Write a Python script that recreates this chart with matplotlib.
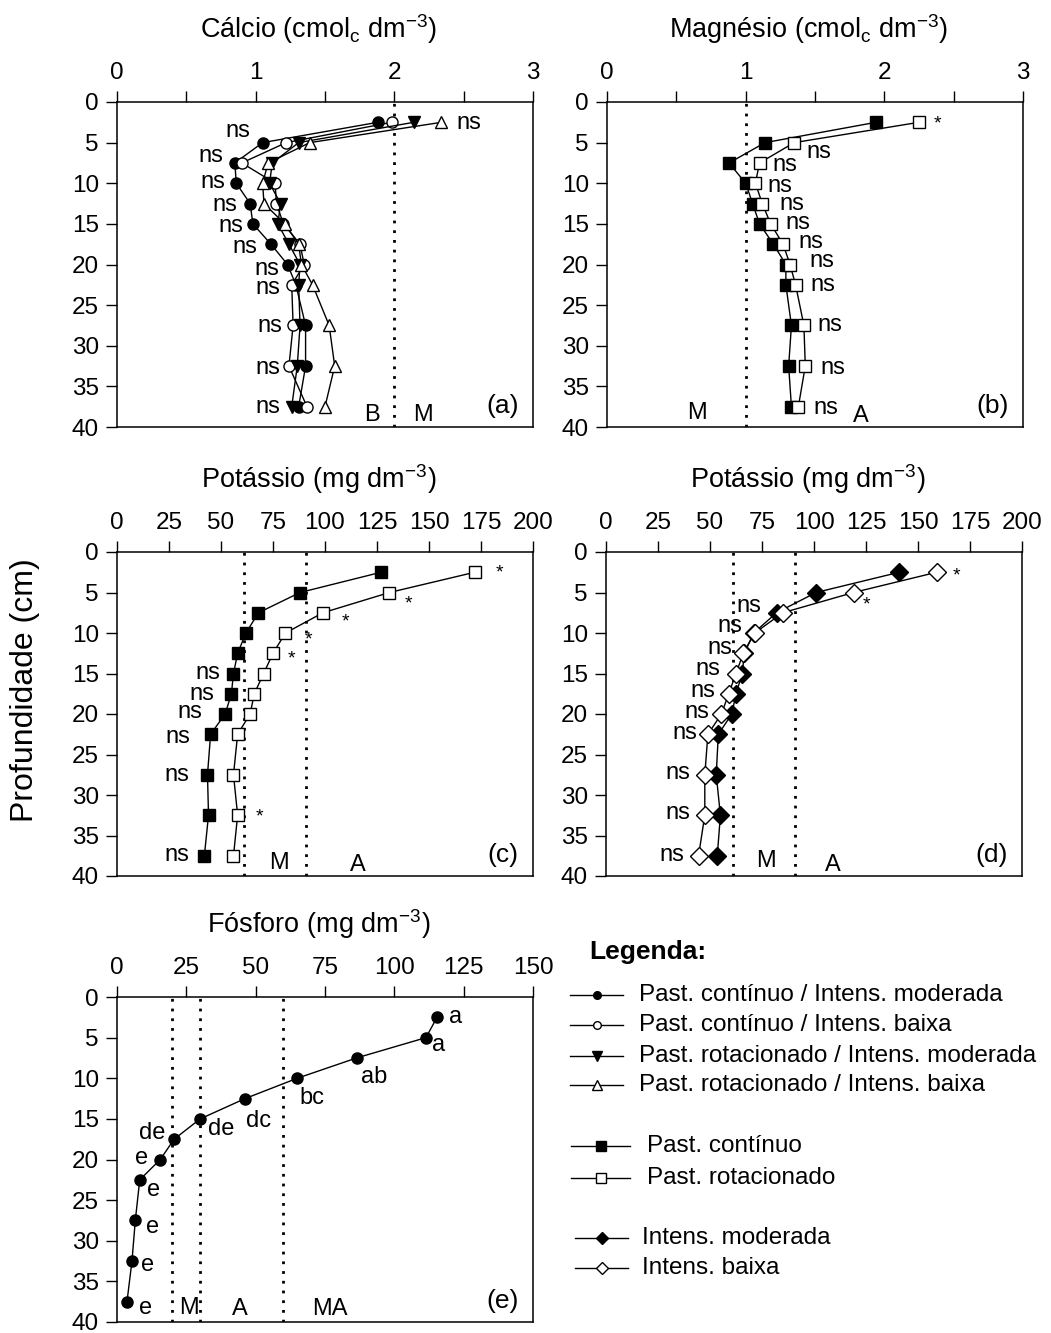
import numpy as np
import matplotlib.pyplot as plt

plt.rcParams['font.family'] = ['Liberation Sans', 'DejaVu Sans']
plt.rcParams['mathtext.default'] = 'regular'

# profundidades (cm)
depth = [2.5, 5, 7.5, 10, 12.5, 15, 17.5, 20, 22.5, 27.5, 32.5, 37.5]

# (a) Calcio
ca_cont_mod = [1.88, 1.05, 0.85, 0.86, 0.96, 0.98, 1.11, 1.23, 1.29, 1.36, 1.36, 1.31]
ca_cont_baixa = [1.98, 1.22, 0.90, 1.14, 1.15, 1.20, 1.32, 1.35, 1.26, 1.27, 1.24, 1.37]
ca_rot_mod = [2.14, 1.31, 1.12, 1.10, 1.18, 1.16, 1.24, 1.32, 1.31, 1.32, 1.30, 1.26]
ca_rot_baixa = [2.34, 1.39, 1.09, 1.05, 1.06, 1.21, 1.31, 1.33, 1.41, 1.53, 1.57, 1.50]

# (b) Magnesio
mg_cont = [1.94, 1.14, 0.88, 1.00, 1.05, 1.10, 1.20, 1.29, 1.29, 1.33, 1.31, 1.33]
mg_rot = [2.25, 1.35, 1.10, 1.07, 1.12, 1.18, 1.27, 1.32, 1.36, 1.42, 1.43, 1.38]

# (c) Potassio - sistema de pastejo
k_cont = [127, 88, 68, 62, 58, 56, 55, 52, 45, 43.5, 44, 42]
k_rot = [172, 131, 99, 81, 75, 70.5, 66, 64, 58, 56, 58, 56]

# (d) Potassio - intensidade
k_mod = [141, 101, 82, 71, 66.5, 65.5, 62.5, 60.5, 54, 53, 55, 53.5]
k_baixa = [159, 119, 85, 71.5, 66, 62.5, 59, 55.5, 49, 47.5, 47.5, 44.5]

# (e) Fosforo
p_all = [115.4, 111.4, 86.4, 65.0, 46.2, 30.0, 20.6, 15.6, 8.2, 6.6, 5.4, 3.6]
p_letras = ['a', 'a', 'ab', 'bc', 'dc', 'de', 'de', 'e', 'e', 'e', 'e', 'e']

W, H = 1051, 1333
fig = plt.figure(figsize=(W / 100, H / 100), dpi=100)


def make_ax(left, top, right, bottom, xmax, xticks, xlabels, title, tag):
    ax = fig.add_axes([left / W, 1 - bottom / H, (right - left) / W, (bottom - top) / H])
    ax.set_xlim(0, xmax)
    ax.set_ylim(40, 0)
    ax.xaxis.tick_top()
    ax.set_xticks(xticks)
    ax.set_xticklabels(xlabels)
    ax.set_yticks(range(0, 41, 5))
    ax.tick_params(direction='out', length=8, width=1, labelsize=17.5, pad=5)
    for s in ax.spines.values():
        s.set_linewidth(1.1)
    ax.text(0.485, 1.225, title, transform=ax.transAxes, ha='center', va='center', fontsize=19.5)
    ax.text(0.965, 0.065, tag, transform=ax.transAxes, ha='right', va='center', fontsize=19)
    return ax


def vline(ax, x):
    ax.axvline(x, color='black', linestyle=(0, (1, 2.5)), linewidth=2)


def txt(ax, x, y, s, size=17):
    ax.text(x, y, s, ha='center', va='center', fontsize=size)


lkw = dict(color='black', linewidth=1, markeredgecolor='black', markeredgewidth=1)

ca_ticks = np.arange(0, 3.01, 0.5)
ca_labels = ['0', '', '1', '', '2', '', '3']

# (a)
ax = make_ax(117, 102, 533, 427, 3, ca_ticks, ca_labels, 'Cálcio (cmol$_c$ dm$^{-3}$)', '(a)')
vline(ax, 2.0)
ax.plot(ca_cont_mod, depth, marker='o', markersize=8, markerfacecolor='black', **lkw)
ax.plot(ca_cont_baixa, depth, marker='o', markersize=8, markerfacecolor='white', **lkw)
ax.plot(ca_rot_mod, depth, marker='v', markersize=8.5, markerfacecolor='black', **lkw)
ax.plot(ca_rot_baixa, depth, marker='^', markersize=8.5, markerfacecolor='white', **lkw)
for x, y in [(2.54, 2.6), (0.87, 3.6), (0.68, 6.7), (0.69, 9.9), (0.78, 12.7), (0.82, 15.3),
             (0.92, 17.8), (1.08, 20.5), (1.09, 22.9), (1.10, 27.6), (1.09, 32.8), (1.09, 37.5)]:
    txt(ax, x, y, 'ns')
txt(ax, 1.84, 38.5, 'B')
txt(ax, 2.21, 38.5, 'M')

# (b)
ax = make_ax(607, 102, 1023, 427, 3, ca_ticks, ca_labels, 'Magnésio (cmol$_c$ dm$^{-3}$)', '(b)')
vline(ax, 1.0)
ax.plot(mg_cont, depth, marker='s', markersize=9, markerfacecolor='black', **lkw)
ax.plot(mg_rot, depth, marker='s', markersize=9, markerfacecolor='white', **lkw)
txt(ax, 2.38, 2.7, '*', 14)
for x, y in [(1.53, 6.2), (1.28, 7.8), (1.25, 10.3), (1.33, 12.5), (1.38, 14.9), (1.47, 17.2),
             (1.55, 19.6), (1.56, 22.5), (1.61, 27.4), (1.63, 32.7), (1.58, 37.7)]:
    txt(ax, x, y, 'ns')
txt(ax, 0.65, 38.3, 'M')
txt(ax, 1.83, 38.6, 'A')

k_ticks = np.arange(0, 201, 25)
k_labels = [str(v) for v in k_ticks]

# (c)
ax = make_ax(117, 552, 533, 876, 200, k_ticks, k_labels, 'Potássio (mg dm$^{-3}$)', '(c)')
vline(ax, 61)
vline(ax, 91)
ax.plot(k_cont, depth, marker='s', markersize=9, markerfacecolor='black', **lkw)
ax.plot(k_rot, depth, marker='s', markersize=9, markerfacecolor='white', **lkw)
for x, y in [(184, 2.6), (140, 6.4), (110, 8.6), (92, 10.8), (84, 13.2), (68.6, 32.7)]:
    txt(ax, x, y, '*', 14)
for x, y in [(43.5, 14.9), (41, 17.5), (35, 19.8), (29.5, 22.8), (29, 27.5), (29, 37.4)]:
    txt(ax, x, y, 'ns')
txt(ax, 78, 38.4, 'M')
txt(ax, 116, 38.6, 'A')

# (d)
ax = make_ax(606, 552, 1022, 876, 200, k_ticks, k_labels, 'Potássio (mg dm$^{-3}$)', '(d)')
vline(ax, 61)
vline(ax, 91)
ax.plot(k_mod, depth, marker='D', markersize=9, markerfacecolor='black', **lkw)
ax.plot(k_baixa, depth, marker='D', markersize=9, markerfacecolor='white', **lkw)
txt(ax, 168.7, 2.9, '*', 14)
txt(ax, 125, 6.5, '*', 14)
for x, y in [(68.5, 6.7), (59.7, 9.1), (54.9, 11.8), (49.2, 14.4), (46.8, 17.1), (43.6, 19.7),
             (37.7, 22.4), (34.5, 27.3), (34.5, 32.2), (31.6, 37.4)]:
    txt(ax, x, y, 'ns')
txt(ax, 77, 38.2, 'M')
txt(ax, 109, 38.6, 'A')

# (e)
p_ticks = np.arange(0, 151, 25)
ax = make_ax(117, 997, 533, 1322, 150, p_ticks, [str(v) for v in p_ticks], 'Fósforo (mg dm$^{-3}$)', '(e)')
for x in [20, 30, 60]:
    vline(ax, x)
ax.plot(p_all, depth, marker='o', markersize=8, markerfacecolor='black', **lkw)
letra_pos = [(122.2, 2.5), (115.8, 5.9), (92.8, 9.8), (70.4, 12.4), (51.2, 15.3), (37.4, 16.3),
             (12.6, 16.7), (8.8, 19.8), (13.2, 23.8), (13.0, 28.3), (11.2, 33.0), (10.4, 38.3)]
for (x, y), s in zip(letra_pos, p_letras):
    txt(ax, x, y, s)
txt(ax, 25.8, 38.3, 'M')
txt(ax, 44.4, 38.4, 'A')
txt(ax, 76.8, 38.4, 'MA')

fig.text(25 / W, 1 - 690 / H, 'Profundidade (cm)', rotation=90, ha='center', va='center', fontsize=23)

# legenda
lax = fig.add_axes([0, 0, 1, 1])
lax.set_xlim(0, W)
lax.set_ylim(H, 0)
lax.axis('off')
lax.text(589, 952, 'Legenda:', fontsize=19, fontweight='bold', ha='left', va='center')
entradas = [
    (995, 570, 623, 'o', 'black', 5.5, 'Past. contínuo / Intens. moderada', 639),
    (1025, 570, 623, 'o', 'white', 5.5, 'Past. contínuo / Intens. baixa', 639),
    (1056, 570, 623, 'v', 'black', 6.5, 'Past. rotacionado / Intens. moderada', 639),
    (1085, 570, 623, '^', 'white', 6.5, 'Past. rotacionado / Intens. baixa', 639),
    (1146, 571, 630, 's', 'black', 6.5, 'Past. contínuo', 647),
    (1178, 571, 630, 's', 'white', 6.5, 'Past. rotacionado', 647),
    (1238, 575, 628, 'D', 'black', 6.5, 'Intens. moderada', 642),
    (1268, 575, 628, 'D', 'white', 6.5, 'Intens. baixa', 642),
]
for y, x0, x1, m, fc, ms, label, xt in entradas:
    lax.plot([x0, x1], [y, y], color='black', linewidth=1)
    lax.plot([(x0 + x1) / 2], [y], marker=m, markersize=ms, markerfacecolor=fc,
             markeredgecolor='black', markeredgewidth=1, linestyle='none')
    lax.text(xt, y, label, fontsize=17.5, ha='left', va='center')

fig.savefig('out.png', dpi=100)
